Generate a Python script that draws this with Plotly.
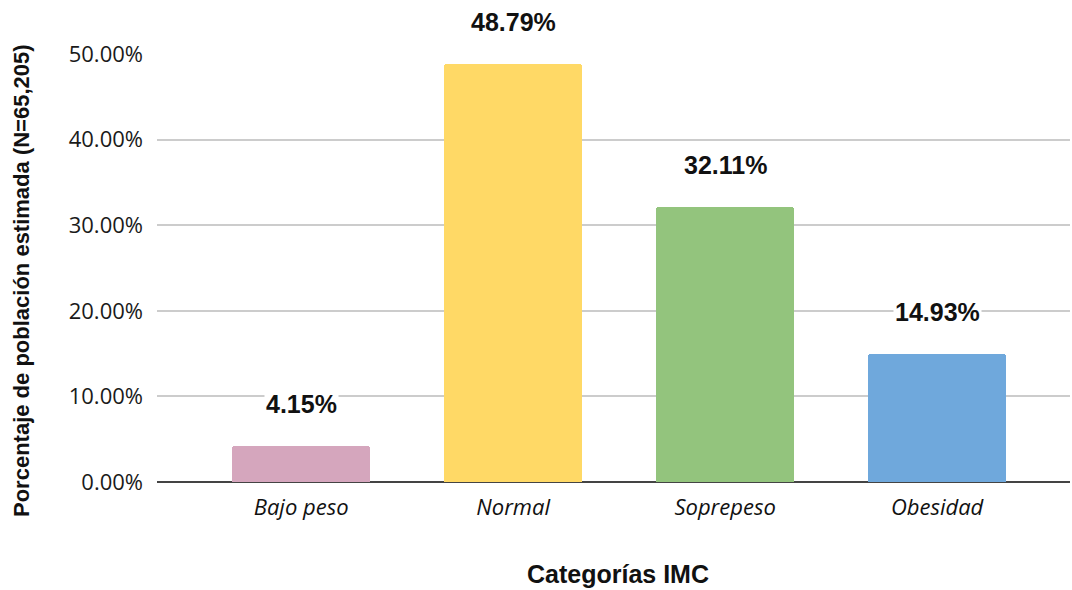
import plotly.graph_objects as go

categories = ["Bajo peso", "Normal", "Soprepeso", "Obesidad"]
values = [4.15, 48.79, 32.11, 14.93]
colors = ["#d5a6bd", "#ffd966", "#93c47d", "#6fa8dc"]
tick_vals = [0, 10, 20, 30, 40, 50]
tick_text = ["0.00%", "10.00%", "20.00%", "30.00%", "40.00%", "50.00%"]

fig = go.Figure()
fig.add_trace(go.Bar(
    x=list(range(len(categories))), y=values,
    marker=dict(color=colors, line=dict(width=0), cornerradius=3),
    width=0.65, hoverinfo="skip",
))

for i, v in enumerate(values):
    fig.add_annotation(
        x=i, y=v, xref="x", yref="y", text=f"<b>{v:.2f}%</b>",
        showarrow=False, yshift=42, bgcolor="white",
        font=dict(family="Liberation Sans, Arial", size=25, color="#111"),
    )

fig.add_annotation(
    xref="paper", yref="paper", x=(21 - 157) / 913, y=(482 - 281) / 428,
    xanchor="center", yanchor="middle",
    text="<b>Porcentaje de población estimada (N=65,205)</b>", textangle=-90,
    showarrow=False, font=dict(family="Liberation Sans, Arial", size=22, color="#111"),
)
fig.add_annotation(
    xref="paper", yref="paper", x=(618 - 157) / 913, y=-(574 - 482) / 428,
    xanchor="center", yanchor="middle",
    text="<b>Categorías IMC</b>", showarrow=False,
    font=dict(family="Liberation Sans, Arial", size=25, color="#111"),
)

fig.update_layout(
    width=1072, height=590,
    margin=dict(l=157, r=2, t=54, b=108),
    paper_bgcolor="white", plot_bgcolor="white",
    showlegend=False, bargap=0,
    xaxis=dict(
        range=[-0.68, 3.627], tickvals=list(range(len(categories))),
        ticktext=[f"<i>{c}</i>" for c in categories],
        tickfont=dict(family="Open Sans", size=22, color="#111"),
        showgrid=False, zeroline=False, showline=False, ticks="",
        ticklabelstandoff=10,
    ),
    yaxis=dict(
        range=[0, 50], tickvals=tick_vals, ticktext=tick_text,
        tickfont=dict(family="Open Sans", size=22, color="#1a1a1a"),
        showgrid=True, gridcolor="#cccccc", gridwidth=1.5,
        zeroline=True, zerolinecolor="#444", zerolinewidth=1.5,
        showline=False, ticks="", ticklabelstandoff=13,
    ),
)

fig.write_html("out.html")
